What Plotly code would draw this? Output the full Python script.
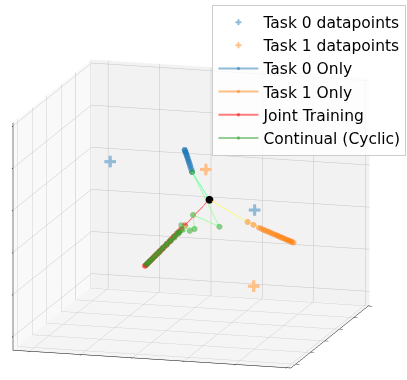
import plotly.graph_objects as go

# Sample inputs for each task (3-D)
task0_pts_x = [-0.77, 0.495]
task0_pts_y = [0.50, -0.30]
task0_pts_z = [0.265, 0.16]

task1_pts_x = [-0.11, 0.545]
task1_pts_y = [0.60, -0.50]
task1_pts_z = [0.22, -0.45]

# Shared initialisation of the weights
init_w = [0.10, -0.05, 0.15]

# Gradient-descent trajectories in weight space
task0_only_x = [0.10, -0.095, -0.103, -0.111, -0.118, -0.125, -0.131, -0.137, -0.143,
                -0.148, -0.153, -0.158, -0.163, -0.167, -0.171, -0.175, -0.177]
task0_only_y = [-0.05, 0.200, 0.210, 0.219, 0.228, 0.236, 0.244, 0.251, 0.258,
                0.265, 0.271, 0.277, 0.283, 0.288, 0.293, 0.297, 0.300]
task0_only_z = [0.15, 0.308, 0.326, 0.341, 0.356, 0.370, 0.384, 0.394, 0.406,
                0.418, 0.427, 0.437, 0.447, 0.453, 0.461, 0.467, 0.470]

task1_only_x = [0.10, 0.446, 0.493, 0.539, 0.559, 0.580, 0.597, 0.615, 0.632, 0.650, 0.667,
                0.685, 0.700, 0.714, 0.729, 0.743, 0.758, 0.773, 0.784, 0.796, 0.808,
                0.819, 0.831]
task1_only_y = [-0.05, -0.300, -0.320, -0.340, -0.351, -0.362, -0.372, -0.382, -0.391, -0.401,
                -0.410, -0.420, -0.428, -0.436, -0.444, -0.452, -0.460, -0.468, -0.474,
                -0.481, -0.487, -0.494, -0.500]
task1_only_z = [0.15, 0.050, 0.035, 0.018, 0.014, 0.009, 0.005, 0.002, -0.002, -0.006, -0.010,
                -0.013, -0.017, -0.020, -0.023, -0.026, -0.030, -0.032, -0.035, -0.037,
                -0.040, -0.042, -0.045]

joint_x = [0.10, -0.090, -0.117, -0.134, -0.152, -0.166, -0.181, -0.195, -0.209, -0.224,
           -0.238, -0.253, -0.267, -0.279, -0.290, -0.302, -0.314, -0.325, -0.337,
           -0.348, -0.360, -0.368, -0.377, -0.386, -0.394, -0.400, -0.406]
joint_y = [-0.05, 0.000, 0.000, 0.006, 0.012, 0.017, 0.022, 0.027, 0.032, 0.037, 0.042,
           0.047, 0.052, 0.056, 0.060, 0.064, 0.068, 0.072, 0.076, 0.080, 0.084,
           0.087, 0.090, 0.093, 0.096, 0.098, 0.100]
joint_z = [0.15, -0.104, -0.141, -0.164, -0.187, -0.206, -0.224, -0.244, -0.262, -0.281,
           -0.300, -0.319, -0.337, -0.352, -0.367, -0.382, -0.396, -0.411, -0.426,
           -0.441, -0.455, -0.466, -0.476, -0.488, -0.498, -0.505, -0.512]

cyclic_x = [0.10, -0.095, 0.186, -0.060, -0.021, -0.130, -0.055, -0.144, -0.109, -0.146,
            -0.140, -0.175, -0.172, -0.204, -0.203, -0.233, -0.234, -0.262, -0.265,
            -0.290, -0.296, -0.319, -0.326, -0.348, -0.356, -0.371, -0.377, -0.389, -0.394]
cyclic_y = [-0.05, 0.200, -0.100, 0.100, 0.000, 0.050, 0.000, 0.050, 0.004, 0.010,
            0.014, 0.020, 0.024, 0.030, 0.034, 0.040, 0.044, 0.050, 0.054,
            0.060, 0.064, 0.070, 0.074, 0.080, 0.084, 0.088, 0.091, 0.094, 0.096]
cyclic_z = [0.15, 0.308, -0.067, -0.038, -0.130, -0.120, -0.150, -0.180, -0.146, -0.179,
            -0.185, -0.215, -0.223, -0.253, -0.261, -0.289, -0.300, -0.327, -0.337,
            -0.364, -0.376, -0.401, -0.413, -0.438, -0.451, -0.467, -0.477, -0.490, -0.497]

BLUE = "#1f77b4"
ORANGE = "#ff7f0e"
RED = "#ff0000"
GREEN = "#2ca02c"
BLUE_LIGHT = "#8fbbd9"
ORANGE_LIGHT = "#ffbf86"

X_RANGE = [-1.045, 0.955]
Y_RANGE = [-1.0, 1.0]
Z_RANGE = [-1.0, 1.0]


def rgba(hex_color, a):
    h = hex_color.lstrip("#")
    r, g, b = (int(h[i:i + 2], 16) for i in (0, 2, 4))
    return f"rgba({r},{g},{b},{a})"


fig = go.Figure()

# Datapoints: legend-bearing marker trace plus a heavy-cross glyph on top
for name, xs, ys, zs, col in [
    ("Task 0 datapoints", task0_pts_x, task0_pts_y, task0_pts_z, BLUE_LIGHT),
    ("Task 1 datapoints", task1_pts_x, task1_pts_y, task1_pts_z, ORANGE_LIGHT),
]:
    fig.add_trace(go.Scatter3d(
        x=xs, y=ys, z=zs, mode="markers", name=name, legendgroup=name,
        marker=dict(symbol="cross", size=5, color=col),
    ))
    fig.add_trace(go.Scatter3d(
        x=xs, y=ys, z=zs, mode="text", text=["\u271a"] * len(xs),
        textposition="middle center", legendgroup=name, showlegend=False,
        textfont=dict(family="DejaVu Sans", size=16, color=col),
    ))

fig.add_trace(go.Scatter3d(
    x=[init_w[0]], y=[init_w[1]], z=[init_w[2]], mode="markers",
    marker=dict(size=4.5, color="black"), showlegend=False,
))

for name, xs, ys, zs, col in [
    ("Task 0 Only", task0_only_x, task0_only_y, task0_only_z, BLUE),
    ("Task 1 Only", task1_only_x, task1_only_y, task1_only_z, ORANGE),
    ("Joint Training", joint_x, joint_y, joint_z, RED),
    ("Continual (Cyclic)", cyclic_x, cyclic_y, cyclic_z, GREEN),
]:
    fig.add_trace(go.Scatter3d(
        x=xs, y=ys, z=zs, mode="lines+markers", name=name, legendgroup=name,
        line=dict(color=rgba(col, 0.5), width=2),
        marker=dict(size=3.5, color=col, opacity=0.5),
    ))

axis_common = dict(
    dtick=0.37,
    showticklabels=False, ticks="outside", ticklen=4, tickcolor="black",
    showline=True, linecolor="black", linewidth=1,
    gridcolor="#c4c4c4", gridwidth=1, zeroline=False,
    showbackground=True, showspikes=False, title=dict(text=""),
)

fig.update_layout(
    width=407, height=380,
    margin=dict(l=0, r=0, t=0, b=0),
    paper_bgcolor="white",
    showlegend=True,
    legend=dict(
        x=0.522, y=0.988, xanchor="left", yanchor="top",
        bgcolor="rgba(255,255,255,0.8)", bordercolor="#cccccc", borderwidth=1,
        font=dict(family="DejaVu Sans", size=15.5, color="black"),
        tracegroupgap=0, itemwidth=40,
    ),
    scene=dict(
        domain=dict(x=[0, 1], y=[0, 1]),
        xaxis=dict(axis_common, range=X_RANGE, tick0=X_RANGE[0] + 0.12,
                   backgroundcolor="#f9f9f9"),
        yaxis=dict(axis_common, range=Y_RANGE, tick0=Y_RANGE[0] + 0.12,
                   backgroundcolor="#f2f2f2"),
        zaxis=dict(axis_common, range=Z_RANGE, tick0=Z_RANGE[0] + 0.12,
                   backgroundcolor="#f5f5f5"),
        aspectmode="manual",
        aspectratio=dict(x=1.52, y=1.52, z=1.23),
        camera=dict(
            eye=dict(x=0.397, y=-1.167, z=0.415),
            center=dict(x=0.064, y=0.012, z=0.13),
            projection=dict(type="orthographic"),
        ),
    ),
)

fig.write_html("out.html")
